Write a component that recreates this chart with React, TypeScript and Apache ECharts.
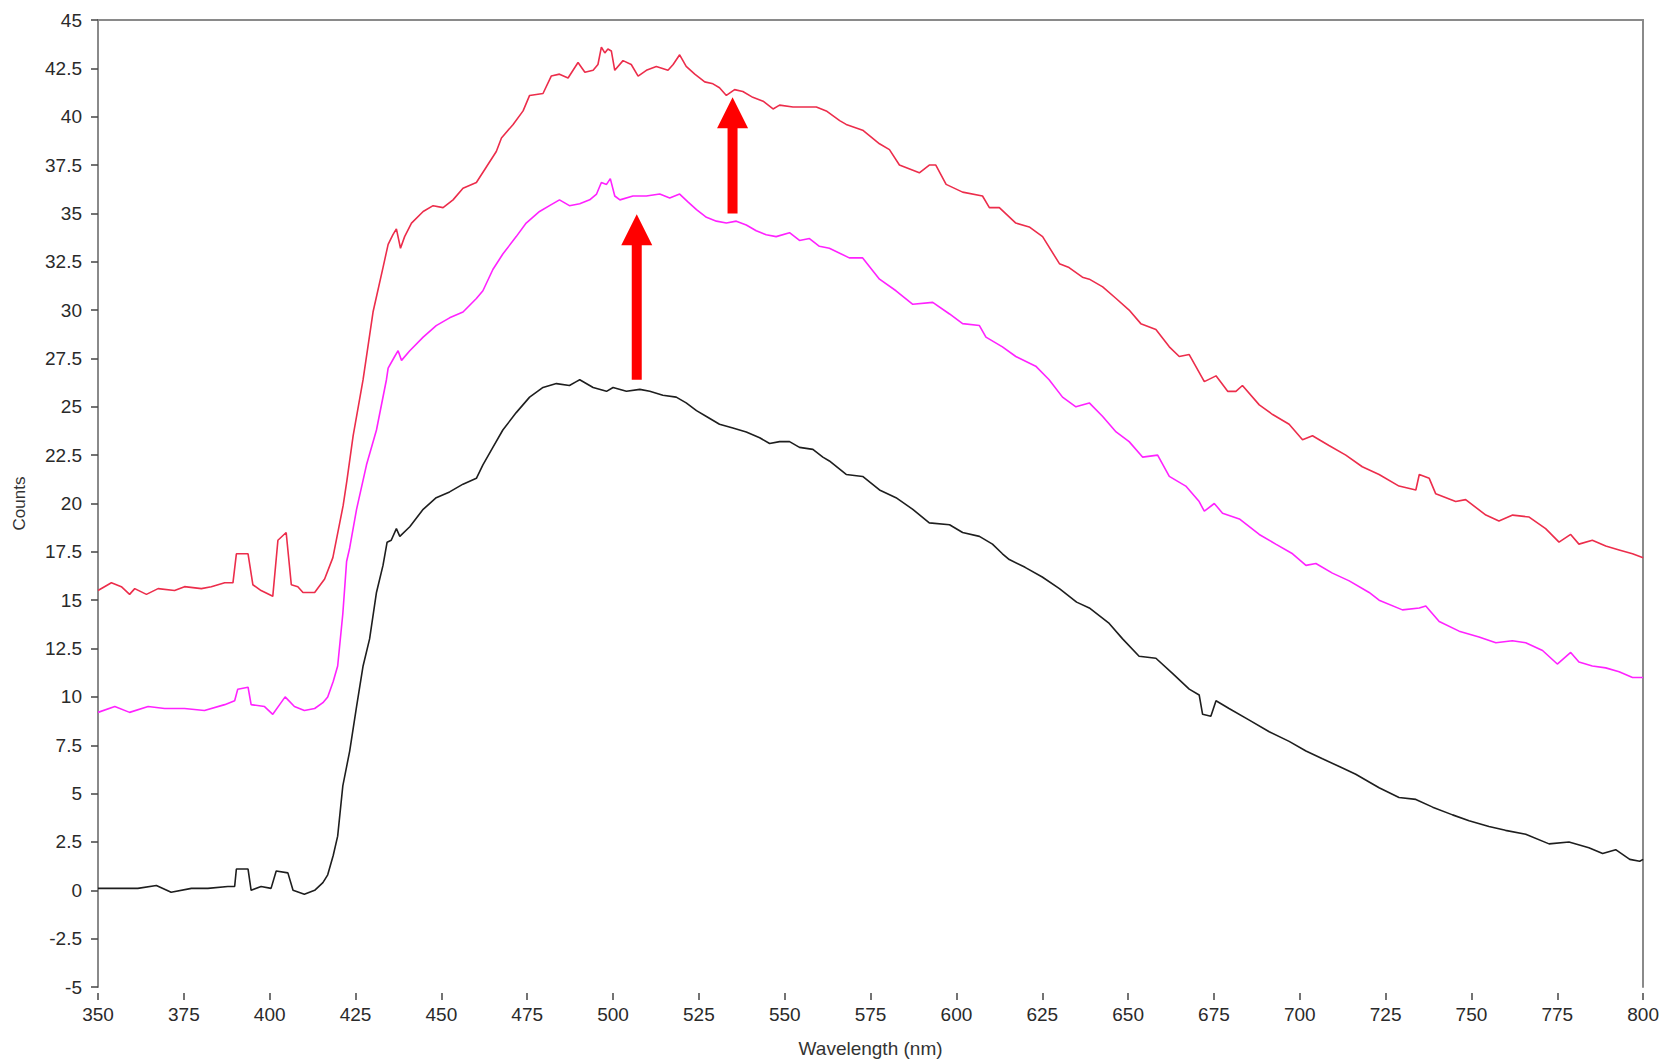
import { useEffect, useRef } from "react";
import * as echarts from "echarts";

// Emission spectra: wavelength (nm) and counts for each trace
const blackNm = [
  350, 355.8, 361.6, 367, 371.3, 377.2, 382, 387.8, 389.8, 390.3, 393.7, 394.6, 397.5, 400.4, 401.9,
  405.3, 406.8, 410.1, 413.1, 415.5, 416.9, 418.5, 419.8, 421.3, 423.3, 425.3, 427.2, 429.1, 431.1,
  433.0, 434.2, 435.4, 436.9, 437.9, 440.8, 444.7, 448.5, 452.4, 456.3, 460.2, 462.1, 465.0, 467.9,
  471.8, 475.7, 479.6, 483.5, 487.3, 489.3, 490.3, 494.2, 498.1, 500, 503.9, 507.8, 510.7, 514.5,
  518.4, 521.3, 524.3, 527.2, 531, 534.9, 538.8, 542.7, 545.6, 548.5, 551.4, 554.3, 558.2, 561.1,
  563, 567.9, 572.7, 577.6, 582.4, 587.3, 592.1, 598, 601.8, 606.7, 610.5, 613.4, 615.4, 620, 625,
  630, 635, 638.7, 644.5, 648.4, 653.2, 658.1, 663, 667.8, 670.7, 671.7, 674.1, 675.6, 679.4, 685.3,
  691.1, 696.9, 701.8, 706.6, 711.5, 716.3, 720.2, 723.1, 728.9, 733.8, 738.7, 744.5, 749.3, 755.1,
  759.9, 765.8, 772.6, 778.4, 784.2, 788.2, 792, 796.1, 799, 800,
];
const blackCounts = [
  0.1, 0.1, 0.1, 0.25, -0.1, 0.1, 0.1, 0.2, 0.2, 1.1, 1.1, 0.0, 0.2, 0.1, 1.0,
  0.9, 0.0, -0.2, 0.0, 0.4, 0.8, 1.8, 2.8, 5.4, 7.2, 9.5, 11.6, 13.0, 15.4,
  16.8, 18.0, 18.1, 18.7, 18.3, 18.8, 19.7, 20.3, 20.6, 21.0, 21.3, 22.0, 22.9, 23.8,
  24.7, 25.5, 26.0, 26.2, 26.1, 26.3, 26.4, 26.0, 25.8, 26.0, 25.8, 25.9, 25.8, 25.6,
  25.5, 25.2, 24.8, 24.5, 24.1, 23.9, 23.7, 23.4, 23.1, 23.2, 23.2, 22.9, 22.8, 22.4,
  22.2, 21.5, 21.4, 20.7, 20.3, 19.7, 19.0, 18.9, 18.5, 18.3, 17.9, 17.4, 17.1, 16.7, 16.2,
  15.6, 14.9, 14.6, 13.8, 13.0, 12.1, 12.0, 11.2, 10.4, 10.1, 9.1, 9.0, 9.8, 9.4, 8.8,
  8.2, 7.7, 7.2, 6.8, 6.4, 6.0, 5.6, 5.3, 4.8, 4.7, 4.3, 3.9, 3.6, 3.3,
  3.1, 2.9, 2.4, 2.5, 2.2, 1.9, 2.1, 1.6, 1.5, 1.6,
];

const magentaNm = [
  350, 354.9, 359.2, 364.6, 369.4, 375.2, 381, 386.9, 389.8, 390.7, 393.7, 394.6, 398.5, 400.9, 402.9,
  404.5, 407.2, 410.1, 413.1, 415.5, 416.9, 418.5, 419.8, 421.3, 422.4, 423.3, 425.3, 428.2, 431.1,
  434.0, 434.5, 436.4, 437.4, 438.4, 440.8, 444.7, 448.5, 452.4, 456.3, 460.2, 462.1, 465.0, 467.9,
  471.8, 474.7, 478.6, 481.5, 484.4, 487.3, 490.3, 493.2, 495.2, 496.6, 498.1, 499.2, 500.5, 502,
  505.8, 509.7, 513.6, 516.5, 519.4, 521.8, 524.3, 527.2, 530.1, 533, 535.9, 538.8, 541.7, 544.6,
  547.5, 551.4, 554.3, 557.2, 560.1, 563, 568.8, 572.7, 577.6, 582.4, 587.3, 593.1, 598, 601.8,
  606.7, 608.6, 613.4, 617.3, 623.1, 627, 630.9, 634.8, 638.7, 642.6, 646.5, 650.3, 654.2, 658.6,
  662, 666.8, 670.7, 672.2, 675.1, 677.5, 682.4, 688.2, 693, 697.9, 701.8, 704.7, 709.5, 714.4,
  720.2, 723.1, 729.9, 734.8, 736.7, 740.6, 746.4, 752.2, 757.1, 761.9, 765.8, 770.7, 775, 778.9,
  781.3, 785.2, 789.1, 793, 796.9, 800,
];
const magentaCounts = [
  9.2, 9.5, 9.2, 9.5, 9.4, 9.4, 9.3, 9.6, 9.8, 10.4, 10.5, 9.6, 9.5, 9.1, 9.6,
  10.0, 9.5, 9.3, 9.4, 9.7, 10.0, 10.8, 11.6, 14.3, 17.0, 17.7, 19.7, 22.0, 23.8,
  26.4, 27.0, 27.6, 27.9, 27.4, 27.9, 28.6, 29.2, 29.6, 29.9, 30.6, 31.0, 32.1, 32.9,
  33.8, 34.5, 35.1, 35.4, 35.7, 35.4, 35.5, 35.7, 36.0, 36.6, 36.5, 36.8, 35.9, 35.7,
  35.9, 35.9, 36.0, 35.8, 36.0, 35.6, 35.2, 34.8, 34.6, 34.5, 34.6, 34.4, 34.1, 33.9,
  33.8, 34.0, 33.6, 33.7, 33.3, 33.2, 32.7, 32.7, 31.6, 31.0, 30.3, 30.4, 29.8, 29.3,
  29.2, 28.6, 28.1, 27.6, 27.1, 26.4, 25.5, 25.0, 25.2, 24.5, 23.7, 23.2, 22.4, 22.5,
  21.4, 20.9, 20.1, 19.6, 20.0, 19.5, 19.2, 18.4, 17.9, 17.4, 16.8, 16.9, 16.4, 16.0,
  15.4, 15.0, 14.5, 14.6, 14.7, 13.9, 13.4, 13.1, 12.8, 12.9, 12.8, 12.4, 11.7, 12.3,
  11.8, 11.6, 11.5, 11.3, 11.0, 11.0,
];

const redNm = [
  350, 353.9, 356.8, 359.2, 360.7, 364.1, 367.5, 372.3, 375.2, 380.1, 383, 386.9, 389.3, 390.3, 393.7,
  395.1, 397.5, 400.9, 402.4, 404.8, 406.3, 408.2, 409.7, 413.1, 416, 418.4, 420.4, 421.4, 422.5,
  424.3, 427.2, 430.1, 433.0, 434.5, 435.9, 436.9, 438.1, 439.3, 441.3, 444.7, 447.6, 450.5, 453.4,
  456.3, 460.2, 463.1, 466.0, 467.5, 470.9, 473.8, 475.7, 479.6, 482.0, 484.4, 486.9, 489.8, 491.8,
  494.2, 495.6, 496.6, 497.6, 498.5, 499.5, 500.5, 502.9, 505.3, 507.3, 509.7, 512.6, 516, 517.5,
  519.4, 521.3, 523.8, 526.7, 529.1, 531.0, 533.0, 535.4, 537.8, 540.7, 543.7, 546.6, 548.5, 552.4,
  556.3, 559.2, 562.1, 566, 567.9, 572.7, 577.6, 580.5, 583.4, 589.2, 592.1, 594, 597, 601.8, 607.6,
  609.6, 612.5, 617.3, 621.2, 625.1, 630, 632.8, 636.7, 638.7, 642.6, 646.5, 650.3, 653.7, 658.1,
  662, 664.9, 667.8, 672.2, 675.6, 679, 681.4, 683.3, 688.2, 692.1, 696.9, 700.8, 703.7, 708.5,
  713.4, 718.2, 723.1, 728.9, 733.8, 734.8, 737.7, 739.6, 745.4, 748.3, 754.2, 758, 762, 766.8,
  771.6, 775.5, 778.9, 781.3, 785.2, 789.1, 793, 796.9, 800,
];
const redCounts = [
  15.5, 15.9, 15.7, 15.3, 15.6, 15.3, 15.6, 15.5, 15.7, 15.6, 15.7, 15.9, 15.9, 17.4, 17.4,
  15.8, 15.5, 15.2, 18.1, 18.5, 15.8, 15.7, 15.4, 15.4, 16.1, 17.2, 19.0, 19.9, 21.2,
  23.5, 26.4, 29.9, 32.2, 33.4, 33.9, 34.2, 33.2, 33.8, 34.5, 35.1, 35.4, 35.3, 35.7,
  36.3, 36.6, 37.4, 38.2, 38.9, 39.6, 40.3, 41.1, 41.2, 42.1, 42.2, 42.0, 42.8, 42.3,
  42.4, 42.7, 43.6, 43.3, 43.5, 43.4, 42.4, 42.9, 42.7, 42.1, 42.4, 42.6, 42.4, 42.7,
  43.2, 42.6, 42.2, 41.8, 41.7, 41.5, 41.1, 41.4, 41.3, 41.0, 40.8, 40.4, 40.6, 40.5,
  40.5, 40.5, 40.3, 39.8, 39.6, 39.3, 38.6, 38.3, 37.5, 37.1, 37.5, 37.5, 36.5, 36.1, 35.9,
  35.3, 35.3, 34.5, 34.3, 33.8, 32.4, 32.2, 31.7, 31.6, 31.2, 30.6, 30.0, 29.3, 29.0,
  28.1, 27.6, 27.7, 26.3, 26.6, 25.8, 25.8, 26.1, 25.1, 24.6, 24.1, 23.3, 23.5, 23.0,
  22.5, 21.9, 21.5, 20.9, 20.7, 21.5, 21.3, 20.5, 20.1, 20.2, 19.4, 19.1, 19.4, 19.3,
  18.7, 18.0, 18.4, 17.9, 18.1, 17.8, 17.6, 17.4, 17.2,
];

// Annotation arrows: wavelength, tail count, tip count
const arrowNm = [506.9, 534.8];
const arrowFrom = [26.4, 35.0];
const arrowTo = [34.95, 41.0];

const pairs = (xs: number[], ys: number[]) => xs.map((x, i) => [x, ys[i]]);

const FONT = "'Liberation Sans', Arial, sans-serif";
const AXIS_GRAY = "#8a8a8a";

export default function App() {
  const ref = useRef<HTMLDivElement>(null);

  useEffect(() => {
    if (!ref.current) return;
    const chart = echarts.init(ref.current, undefined, { renderer: "svg" });

    const lineSeries = (name: string, color: string, data: number[][]) => ({
      name,
      type: "line",
      data,
      showSymbol: false,
      symbol: "none",
      lineStyle: { color, width: 1.6 },
      itemStyle: { color },
      z: 3,
    });

    chart.setOption({
      animation: false,
      backgroundColor: "#ffffff",
      textStyle: { fontFamily: FONT },
      grid: { left: 98, right: 16, top: 20, bottom: 77, containLabel: false },
      xAxis: [
        {
          type: "value",
          min: 350,
          max: 800,
          interval: 25,
          offset: 6,
          name: "Wavelength (nm)",
          nameLocation: "middle",
          nameGap: 46,
          nameTextStyle: { color: "#333", fontSize: 19, fontFamily: FONT },
          axisLine: { show: false, onZero: false },
          axisTick: { show: true, length: 7, inside: false, lineStyle: { color: "#444", width: 1.5 } },
          axisLabel: { color: "#2a2a2a", fontSize: 19, margin: 12, fontFamily: FONT },
          splitLine: { show: false },
        },
        {
          type: "value",
          position: "top",
          min: 350,
          max: 800,
          axisLine: { show: true, onZero: false, lineStyle: { color: AXIS_GRAY, width: 2 } },
          axisTick: { show: false },
          axisLabel: { show: false },
          splitLine: { show: false },
        },
      ],
      yAxis: [
        {
          type: "value",
          min: -5,
          max: 45,
          interval: 2.5,
          name: "Counts",
          nameLocation: "middle",
          nameGap: 70,
          nameRotate: 90,
          nameTextStyle: { color: "#333", fontSize: 17, fontFamily: FONT },
          axisLine: { show: true, onZero: false, lineStyle: { color: AXIS_GRAY, width: 2 } },
          axisTick: { show: true, length: 7, lineStyle: { color: "#444", width: 1.5 } },
          axisLabel: { color: "#2a2a2a", fontSize: 19, margin: 16, fontFamily: FONT },
          splitLine: { show: false },
        },
        {
          type: "value",
          position: "right",
          min: -5,
          max: 45,
          axisLine: { show: true, onZero: false, lineStyle: { color: AXIS_GRAY, width: 2 } },
          axisTick: { show: false },
          axisLabel: { show: false },
          splitLine: { show: false },
        },
      ],
      series: [
        lineSeries("Reference", "#1e1e1e", pairs(blackNm, blackCounts)),
        lineSeries("Sample A", "#ff22ff", pairs(magentaNm, magentaCounts)),
        lineSeries("Sample B", "#ec2d4b", pairs(redNm, redCounts)),
        {
          type: "custom",
          name: "Shift",
          data: arrowNm.map((x, i) => [x, arrowFrom[i], arrowTo[i]]),
          encode: { x: 0, y: [1, 2] },
          z: 5,
          renderItem: (_params: any, api: any) => {
            const x = api.value(0);
            const tail = api.coord([x, api.value(1)]);
            const tip = api.coord([x, api.value(2)]);
            const headLen = 31;
            const headHalf = 15.5;
            const shaftHalf = 5;
            return {
              type: "group",
              children: [
                {
                  type: "rect",
                  shape: {
                    x: tail[0] - shaftHalf,
                    y: tip[1] + headLen - 1,
                    width: shaftHalf * 2,
                    height: tail[1] - tip[1] - headLen + 1,
                  },
                  style: { fill: "#ff0000" },
                },
                {
                  type: "polygon",
                  shape: {
                    points: [
                      [tip[0], tip[1]],
                      [tip[0] - headHalf, tip[1] + headLen],
                      [tip[0] + headHalf, tip[1] + headLen],
                    ],
                  },
                  style: { fill: "#ff0000" },
                },
              ],
            };
          },
        },
      ],
    });

    return () => chart.dispose();
  }, []);

  return (
    <div
      ref={ref}
      style={{ position: "absolute", left: 0, top: 0, width: 1662, height: 1064, background: "#fff" }}
    />
  );
}
